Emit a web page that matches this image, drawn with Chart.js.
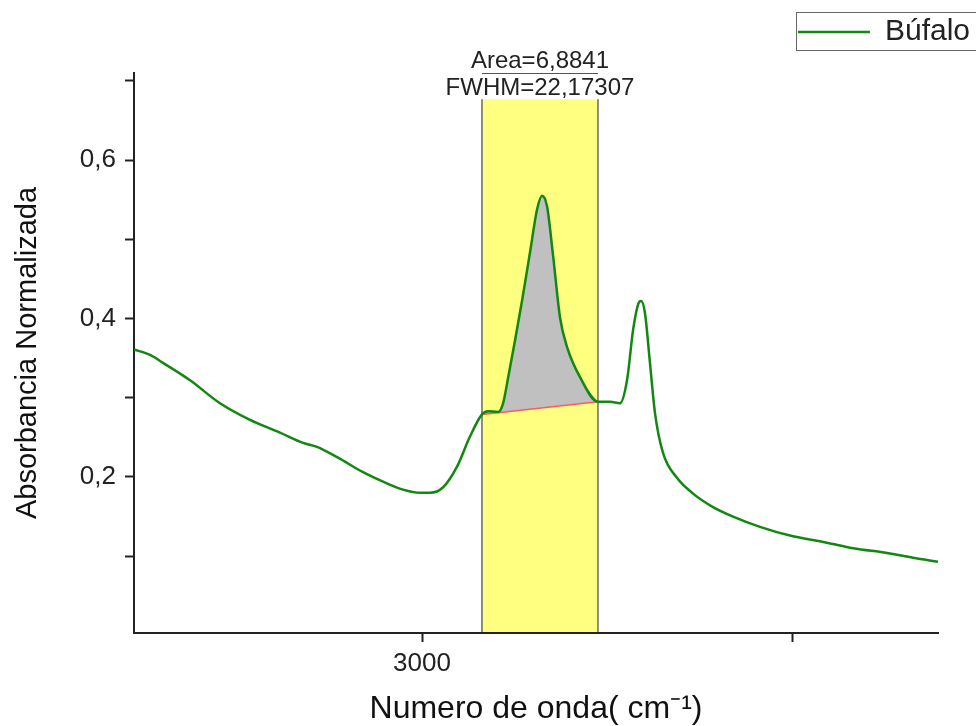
<html>
<head>
    <title>Absorbancia Normalizada - Búfalo</title>
    <script src="https://cdn.jsdelivr.net/npm/chart.js"></script>
    <style>
        body { margin: 0; background: white; }
        canvas { display: block; }
    </style>
</head>
<body>
    <canvas id="spectrumChart" width="976" height="726"></canvas>
    <script>
        // spectrum, left to right (axis runs high -> low wavenumber)
        const wavenumbers = [
            3155.7, 3147.0, 3140.0, 3125.4, 3109.2, 3093.0, 3076.8, 3064.3, 3056.8, 3045.9,
            3031.9, 3021.1, 3010.3, 3001.1, 2995.7, 2988.6, 2981.1, 2974.1, 2967.6, 2964.3,
            2958.9, 2956.2, 2953.5, 2949.7, 2945.9, 2941.6, 2937.8, 2935.1, 2932.4, 2929.2,
            2925.4, 2921.6, 2914.6, 2904.9, 2898.4, 2893.0, 2889.2, 2885.9, 2883.2, 2881.6,
            2879.5, 2876.8, 2874.1, 2869.7, 2862.2, 2853.5, 2842.7, 2831.9, 2817.3, 2801.1,
            2781.1, 2767.0, 2748.6, 2734.6, 2721.1
        ];
        const absorbance = [
            0.361, 0.354, 0.344, 0.322, 0.293, 0.272, 0.256, 0.243, 0.238, 0.225,
            0.206, 0.194, 0.184, 0.180, 0.180, 0.187, 0.213, 0.251, 0.279, 0.283,
            0.282, 0.293, 0.325, 0.373, 0.423, 0.484, 0.538, 0.555, 0.541, 0.480,
            0.401, 0.364, 0.326, 0.295, 0.295, 0.293, 0.322, 0.386, 0.418, 0.422,
            0.407, 0.344, 0.281, 0.230, 0.199, 0.179, 0.162, 0.150, 0.137, 0.126,
            0.117, 0.110, 0.104, 0.098, 0.093
        ];

        // integrated peak: band limits and the straight baseline under it
        const bandStart = 2967.6;
        const bandEnd = 2904.9;
        const bandTop = 0.677;
        const baselineX = [2967.6, 2904.9];
        const baselineY = [0.279, 0.295];
        const peakLabels = ['Area=6,8841', 'FWHM=22,17307'];

        const xTickValues = [3000, 2800];
        const xTickLabels = ['3000', ''];
        const yTickValues = [0.1, 0.2, 0.3, 0.4, 0.5, 0.6, 0.7];
        const yTickLabels = ['', '0,2', '', '0,4', '', '0,6', ''];

        const FONT = 'Arial, "Liberation Sans", sans-serif';
        const INK = '#222222';
        const GREEN = '#128712';

        const curve = wavenumbers.map((x, i) => ({ x: x, y: absorbance[i] }));
        const peakPart = curve.filter(p => p.x <= bandStart && p.x >= bandEnd);
        const baseline = baselineX.map((x, i) => ({ x: x, y: baselineY[i] }));

        // yellow band behind everything, annotation + legend frame on top
        const bandPlugin = {
            id: 'bandPlugin',
            beforeUpdate(chart) {
                if (chart.legend && !chart.legend._patched) {
                    const fit = chart.legend.fit;
                    chart.legend.fit = function () { fit.call(this); this.height = 73; };
                    chart.legend._patched = true;
                }
            },
            afterLayout(chart) {
                chart.legend.top += 11;
                chart.legend.bottom += 11;
            },
            beforeDraw(chart) {
                const xs = chart.scales.x, ys = chart.scales.y, ctx = chart.ctx;
                const x1 = xs.getPixelForValue(bandStart);
                const x2 = xs.getPixelForValue(bandEnd);
                const yt = ys.getPixelForValue(bandTop);
                const yb = ys.bottom;
                ctx.save();
                ctx.fillStyle = '#ffff80';
                ctx.fillRect(x1, yt, x2 - x1, yb - yt);
                ctx.strokeStyle = '#6a6a6a';
                ctx.lineWidth = 1.5;
                ctx.beginPath();
                ctx.moveTo(x1, yt); ctx.lineTo(x1, yb);
                ctx.moveTo(x2, yt); ctx.lineTo(x2, yb);
                ctx.stroke();
                ctx.restore();
            },
            afterDraw(chart) {
                const xs = chart.scales.x, ctx = chart.ctx, top = chart.chartArea.top;
                const x1 = xs.getPixelForValue(bandStart);
                const x2 = xs.getPixelForValue(bandEnd);
                const cx = (x1 + x2) / 2;
                ctx.save();
                ctx.fillStyle = INK;
                ctx.font = '24px ' + FONT;
                ctx.textAlign = 'center';
                ctx.textBaseline = 'alphabetic';
                ctx.fillText(peakLabels[0], cx, top - 5);
                ctx.fillText(peakLabels[1], cx, top + 22);
                ctx.strokeStyle = '#555555';
                ctx.lineWidth = 1;
                ctx.beginPath();
                ctx.moveTo(x1, top + 0.5);
                ctx.lineTo(x2, top + 0.5);
                ctx.stroke();
                // legend frame
                ctx.strokeStyle = '#666666';
                ctx.strokeRect(796.5, 12.5, 200, 38);
                ctx.restore();
            }
        };

        const ctx = document.getElementById('spectrumChart').getContext('2d');
        new Chart(ctx, {
            type: 'line',
            data: {
                datasets: [
                    {
                        label: 'Búfalo',
                        data: curve,
                        borderColor: GREEN,
                        backgroundColor: GREEN,
                        borderWidth: 2.5,
                        pointRadius: 0,
                        cubicInterpolationMode: 'monotone',
                        fill: false,
                        order: 0
                    },
                    {
                        label: 'baseline',
                        data: baseline,
                        borderColor: '#ff5a5a',
                        borderWidth: 1.5,
                        pointRadius: 0,
                        fill: false,
                        order: 1
                    },
                    {
                        label: 'area',
                        data: peakPart,
                        borderWidth: 0,
                        borderColor: 'rgba(0,0,0,0)',
                        backgroundColor: '#c0c0c0',
                        pointRadius: 0,
                        cubicInterpolationMode: 'monotone',
                        fill: 1,
                        order: 2
                    }
                ]
            },
            options: {
                responsive: false,
                animation: false,
                layout: { padding: 0 },
                plugins: {
                    legend: {
                        position: 'top',
                        align: 'end',
                        labels: {
                            filter: item => item.datasetIndex === 0,
                            usePointStyle: true,
                            pointStyle: 'line',
                            pointStyleWidth: 72,
                            padding: 6,
                            color: INK,
                            font: { family: FONT, size: 30 }
                        }
                    },
                    tooltip: { enabled: false }
                },
                scales: {
                    x: {
                        type: 'linear',
                        reverse: true,
                        min: 2721.1,
                        max: 3155.7,
                        afterBuildTicks: s => { s.ticks = xTickValues.map(v => ({ value: v })); },
                        afterFit: s => { s.height = 93; },
                        border: { color: INK, width: 2 },
                        grid: { drawOnChartArea: false, tickLength: 9, tickColor: INK, tickWidth: 2 },
                        ticks: {
                            callback: (v, i) => xTickLabels[i],
                            color: INK,
                            padding: 6,
                            maxRotation: 0,
                            font: { family: FONT, size: 26 }
                        },
                        title: {
                            display: true,
                            text: 'Numero de onda( cm⁻¹)',
                            color: '#111111',
                            padding: { top: 0, bottom: -2 },
                            font: { family: FONT, size: 32 }
                        }
                    },
                    y: {
                        min: 0.003,
                        max: 0.71,
                        afterBuildTicks: s => { s.ticks = yTickValues.map(v => ({ value: v })); },
                        afterFit: s => { s.width = 134; },
                        border: { color: INK, width: 2 },
                        grid: { drawOnChartArea: false, tickLength: 9, tickColor: INK, tickWidth: 2 },
                        ticks: {
                            callback: (v, i) => yTickLabels[i],
                            color: INK,
                            padding: 9,
                            font: { family: FONT, size: 26 }
                        },
                        title: {
                            display: true,
                            text: 'Absorbancia Normalizada',
                            color: '#111111',
                            padding: { top: 11, bottom: 4 },
                            font: { family: FONT, size: 29 }
                        }
                    },
                    y2: {
                        position: 'right',
                        display: true,
                        afterFit: s => { s.width = 38; },
                        border: { display: false },
                        grid: { display: false },
                        ticks: { display: false }
                    }
                }
            },
            plugins: [bandPlugin]
        });
    </script>
</body>
</html>
